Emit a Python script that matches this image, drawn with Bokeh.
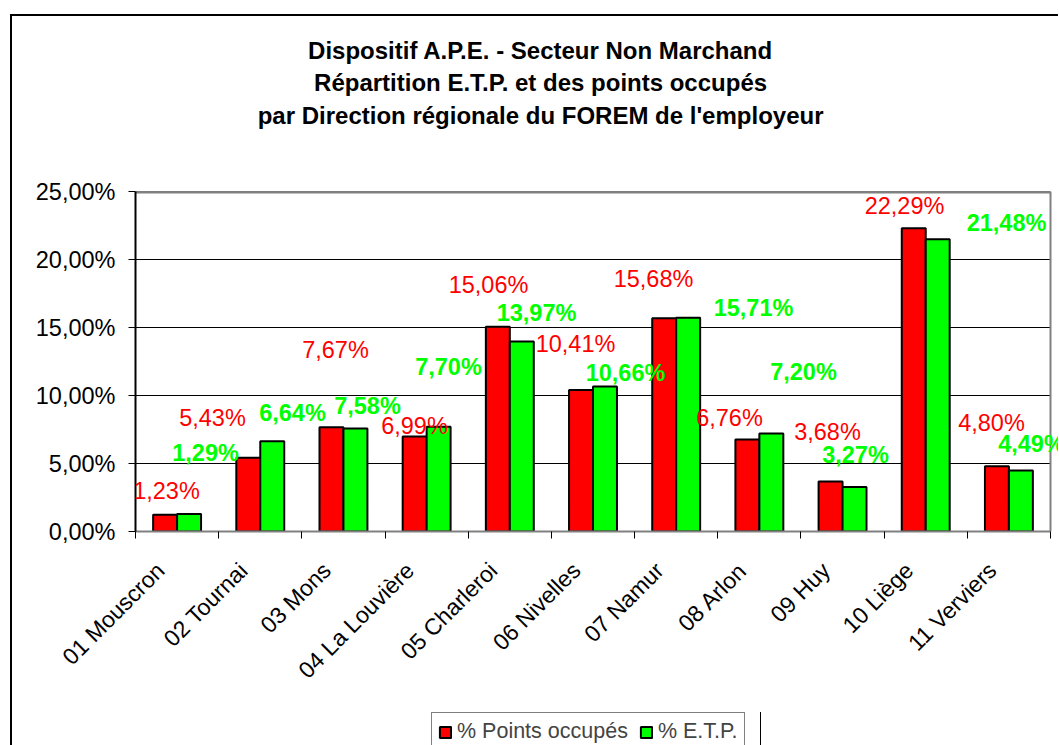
import math
from bokeh.plotting import figure
from bokeh.layouts import column
from bokeh.models import (Range1d, LinearAxis, FixedTicker, ColumnDataSource,
                          LabelSet, Legend, LegendItem)
from bokeh.embed import file_html
from bokeh.resources import INLINE
from bokeh.core.properties import value

# ---------------- data ----------------
categories = ["01 Mouscron", "02 Tournai", "03 Mons", "04 La Louvière", "05 Charleroi",
              "06 Nivelles", "07 Namur", "08 Arlon", "09 Huy", "10 Liège", "11 Verviers"]
points_occupes = [1.23, 5.43, 7.67, 6.99, 15.06, 10.41, 15.68, 6.76, 3.68, 22.29, 4.80]
etp = [1.29, 6.64, 7.58, 7.70, 13.97, 10.66, 15.71, 7.20, 3.27, 21.48, 4.49]
series_names = ["% Points occupés", "% E.T.P."]
y_ticks = [0, 5, 10, 15, 20, 25]
y_tick_labels = ["0,00%", "5,00%", "10,00%", "15,00%", "20,00%", "25,00%"]
title_lines = ["Dispositif A.P.E. - Secteur Non Marchand",
               "Répartition E.T.P. et des points occupés",
               "par Direction régionale du FOREM de l'employeur"]

# data-label anchor positions (as placed in the original chart), in data units
red_label_x = [0.373, 0.926, 2.404, 3.354, 4.244, 5.290, 6.228, 7.141, 8.319, 9.245, 10.291]
red_label_y = [3.01, 8.38, 13.31, 7.79, 18.09, 13.82, 18.53, 8.31, 7.28, 23.97, 8.01]
green_label_x = [0.842, 1.887, 2.789, 3.763, 4.821, 5.891, 7.430, 8.031, 8.656, 10.471, 10.772]
green_label_y = [5.74, 8.68, 9.26, 12.06, 16.03, 11.62, 16.40, 11.76, 5.66, 22.65, 6.47]

# ---------------- style / layout ----------------
RED = "#FF0000"
GREEN = "#00FF00"
GRAY = "#808080"
FONT = "Liberation Sans"
BAR_W = 0.288
LABEL_SHIFT = 0.2      # category labels sit a bit left of the category centre
TITLE_X = 4.87         # horizontal centre of the title block, in category units

W, H = 1046, 696
LEFT, TOP, BOTTOM = 123, 175, 181
PLOT_PX = 915          # width in px of the 11 categories
LEG_W, LEG_H, LEG_LEFT = 330, 33, 296   # legend strip (its frame is aligned with the chart's)

def fmt(v):
    return f"{v:.2f}".replace(".", ",") + "%"

n = len(categories)
centers = [i + 0.5 for i in range(n)]
boundaries = list(range(n + 1))
x_red = [c - BAR_W / 2 for c in centers]
x_green = [c + BAR_W / 2 for c in centers]
x_end = n * (W - LEFT) / PLOT_PX

p = figure(width=W, height=H, output_backend="svg", toolbar_location=None,
           x_range=Range1d(0, x_end), y_range=Range1d(0, y_ticks[-1]),
           x_axis_type=None, y_axis_type=None,
           min_border_left=LEFT, min_border_right=0, min_border_top=TOP,
           min_border_bottom=BOTTOM)
p.title.text = ""
p.background_fill_color = "white"
p.border_fill_color = "white"
p.outline_line_color = None

# horizontal grid lines across the plot area (at the y tick values)
p.segment(x0=[0] * len(y_ticks), x1=[n] * len(y_ticks), y0=y_ticks, y1=y_ticks,
          line_color="black", line_width=1)
# plot-area border (top and right, grey)
p.segment(x0=[0], x1=[n], y0=[y_ticks[-1]], y1=[y_ticks[-1]], line_color=GRAY, line_width=4)
p.segment(x0=[n], x1=[n], y0=[0], y1=[y_ticks[-1]], line_color=GRAY, line_width=2)

# y axis
yaxis = LinearAxis(ticker=FixedTicker(ticks=y_ticks),
                   major_label_overrides={t: l for t, l in zip(y_ticks, y_tick_labels)},
                   axis_line_color="black", axis_line_width=2,
                   major_tick_line_color="black", major_tick_line_width=1,
                   major_tick_out=7, major_tick_in=0,
                   minor_tick_line_color=None, major_label_standoff=13,
                   major_label_text_font=FONT, major_label_text_font_size="23.5px",
                   major_label_text_color="black")
p.add_layout(yaxis, "left")

# x axis: boundary ticks (minor) + category labels (major, no tick mark)
label_ticks = [c - LABEL_SHIFT for c in centers]
xaxis = LinearAxis(ticker=FixedTicker(ticks=label_ticks, minor_ticks=boundaries),
                   major_label_overrides={t: name for t, name in zip(label_ticks, categories)},
                   bounds=(0, n),
                   axis_line_color=GRAY, axis_line_width=2,
                   major_tick_line_color=None, major_tick_out=0, major_tick_in=0,
                   minor_tick_line_color="black", minor_tick_out=7, minor_tick_in=0,
                   major_label_orientation=math.pi / 4, major_label_standoff=28,
                   major_label_text_font=FONT, major_label_text_font_size="23px",
                   major_label_text_color="black")
p.add_layout(xaxis, "below")

# title block (three centred bold lines above the plot area)
title_axis = LinearAxis(ticker=FixedTicker(ticks=[TITLE_X]),
                        major_label_overrides={TITLE_X: "\n".join(title_lines)},
                        axis_line_color=None, major_tick_line_color=None,
                        major_tick_out=0, major_tick_in=0, minor_tick_line_color=None,
                        major_label_standoff=63, major_label_text_font=FONT,
                        major_label_text_font_size="24px", major_label_text_font_style="bold",
                        major_label_text_color="black", major_label_text_line_height=1.2)
p.add_layout(title_axis, "above")

p.vbar(x=x_red, top=points_occupes, width=BAR_W, bottom=0,
       fill_color=RED, line_color="black", line_width=2)
p.vbar(x=x_green, top=etp, width=BAR_W, bottom=0,
       fill_color=GREEN, line_color="black", line_width=2)

src_red = ColumnDataSource(dict(x=red_label_x, y=red_label_y, text=[fmt(v) for v in points_occupes]))
src_green = ColumnDataSource(dict(x=green_label_x, y=green_label_y, text=[fmt(v) for v in etp]))
p.add_layout(LabelSet(x="x", y="y", text="text", source=src_red, text_align="center",
                      text_baseline="middle", text_color=RED, text_font=value(FONT),
                      text_font_size=value("23.5px")))
p.add_layout(LabelSet(x="x", y="y", text="text", source=src_green, text_align="center",
                      text_baseline="middle", text_color=GREEN, text_font=value(FONT),
                      text_font_size=value("23.5px"), text_font_style="bold"))

# legend strip below the chart: same two series, viewed outside their extent so that
# only the legend box shows
leg = figure(width=LEG_W + LEFT, height=LEG_H, output_backend="svg", toolbar_location=None,
             x_range=Range1d(-2, -1), y_range=Range1d(0, 1),
             x_axis_type=None, y_axis_type=None, min_border=0)
leg.title.text = ""
leg.outline_line_color = None
leg.background_fill_color = "white"
leg.border_fill_color = "white"
lr = leg.vbar(x=x_red, top=points_occupes, width=BAR_W, fill_color=RED,
              line_color="black", line_width=2)
lg = leg.vbar(x=x_green, top=etp, width=BAR_W, fill_color=GREEN,
              line_color="black", line_width=2)
legend = Legend(items=[LegendItem(label=series_names[0], renderers=[lr]),
                       LegendItem(label=series_names[1], renderers=[lg])],
                location="top_left", orientation="horizontal",
                label_text_font=FONT, label_text_font_size="21.5px",
                glyph_width=14, glyph_height=14, padding=6, spacing=11,
                label_standoff=5, border_line_color="black", border_line_width=1,
                background_fill_color="white", background_fill_alpha=1.0, margin=0)
leg.add_layout(legend, "center")
leg.styles = {"margin-left": f"{LEG_LEFT}px"}

page = column(p, leg, spacing=0)
page.styles = {"border-left": "2px solid black", "border-top": "2px solid black",
               "margin-left": "10px", "margin-top": "14px"}

open("out.html", "w").write(file_html(page, INLINE))
